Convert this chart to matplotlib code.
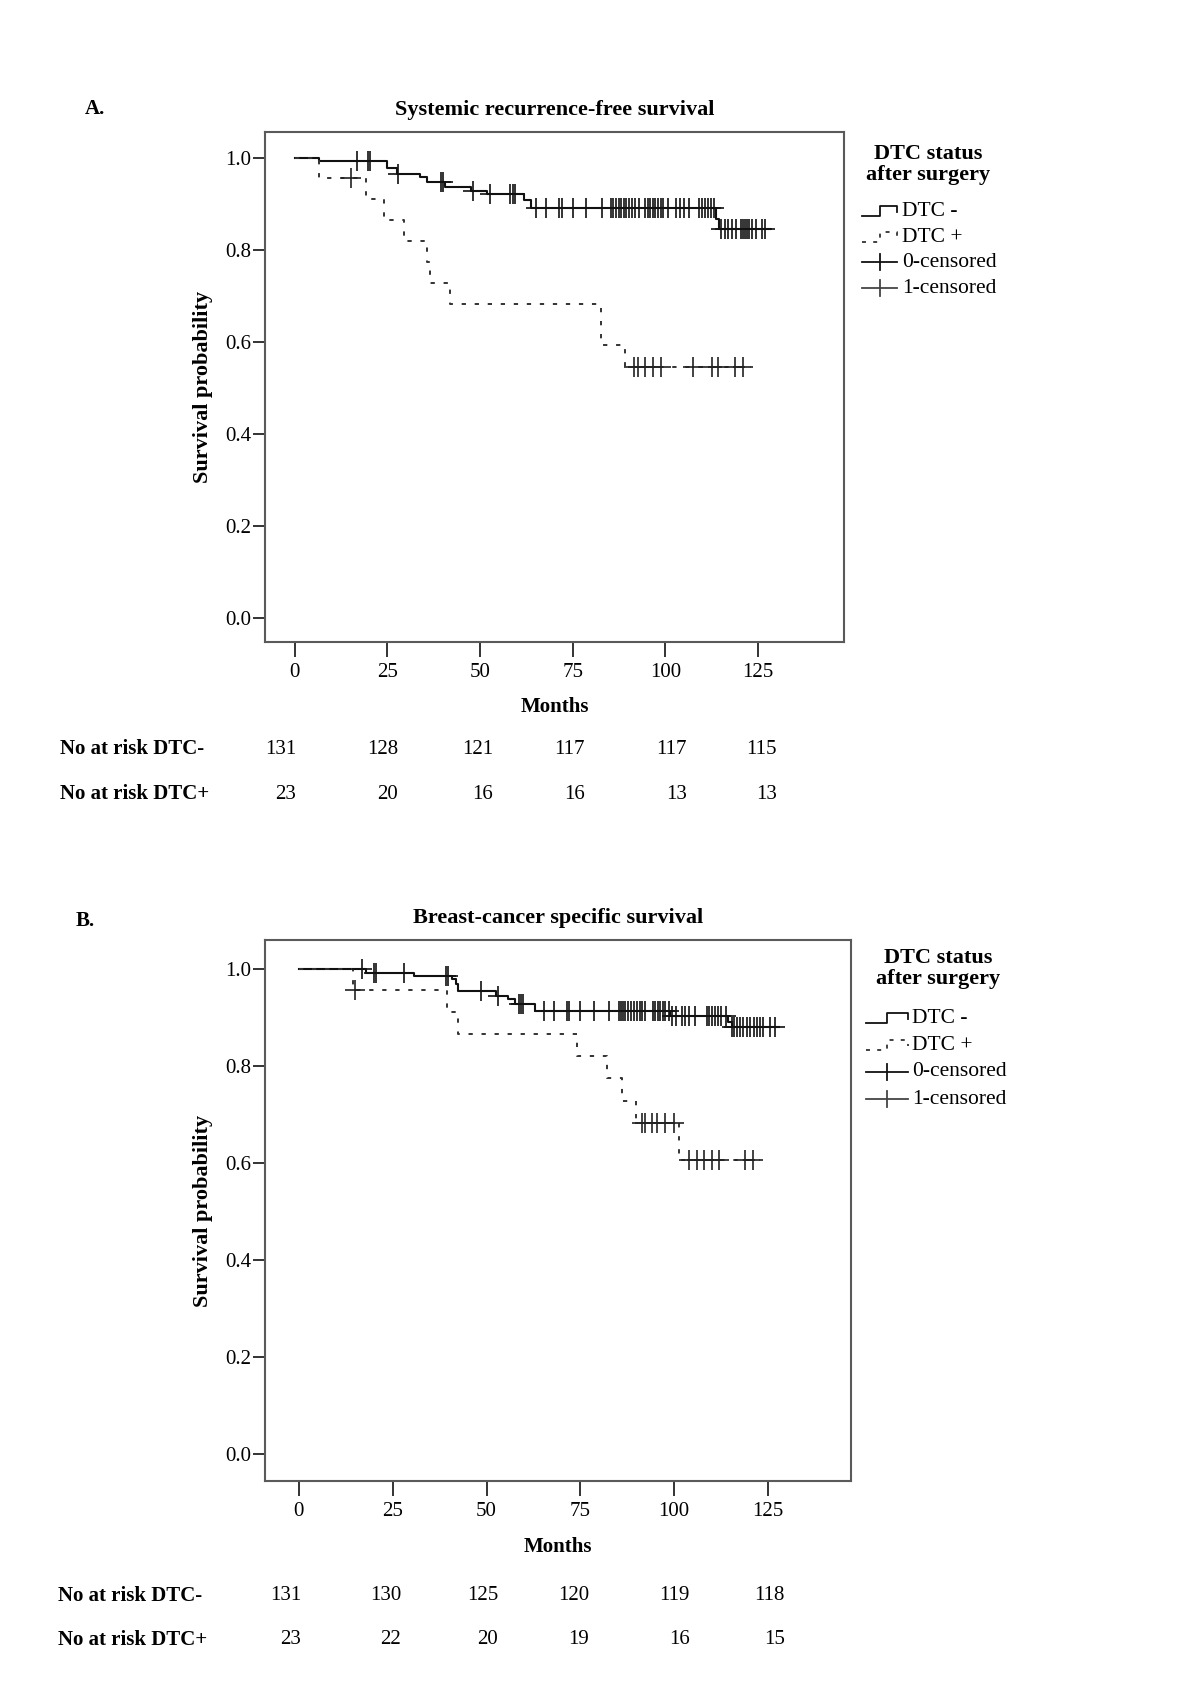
import numpy as np
import matplotlib
matplotlib.use("Agg")
import matplotlib.pyplot as plt

plt.rcParams['font.family'] = ['Liberation Serif', 'DejaVu Serif']

# ---------------- data ----------------
month_ticks = [0, 25, 50, 75, 100, 125]
surv_ticks = [0.0, 0.2, 0.4, 0.6, 0.8, 1.0]

# Panel A: systemic recurrence-free survival
a_neg_t = [0, 6.7, 25, 27.5, 33.7, 35.8, 40.5, 47.7, 52, 62, 63.7, 113.7, 114.5, 128.2]
a_neg_s = [1.0, 0.993, 0.978, 0.965, 0.958, 0.947, 0.937, 0.929, 0.921, 0.91, 0.892, 0.868, 0.845, 0.845]
a_neg_c = [16.7, 19.8, 20.4, 27.9, 39.4, 39.9, 48.2, 52.8, 58.0, 58.8, 59.5, 65.2, 67.8, 71.4,
           72.2, 75.0, 78.6, 82.8, 85.3, 86.0, 86.7, 87.4, 88.1, 88.8, 89.5, 90.2, 91.0, 91.8,
           93.0, 94.6, 95.3, 95.9, 96.6, 97.3, 98.0, 98.7, 99.3, 100.8, 102.9, 103.9, 105.0,
           106.5, 109.0, 109.8, 110.6, 111.5, 112.2, 113.2, 115.0, 116.0, 117.0, 118.0, 119.0,
           120.5, 121.0, 121.5, 122.0, 122.5, 123.5, 124.5, 126.0, 127.0]
a_pos_t = [0, 6.5, 19.3, 24.1, 29.4, 35.6, 36.6, 41.8, 82.6, 89.0, 123.0]
a_pos_s = [1.0, 0.957, 0.911, 0.866, 0.82, 0.775, 0.729, 0.683, 0.593, 0.546, 0.546]
a_pos_c = [15.2, 91.5, 92.5, 94.6, 96.7, 98.8, 107.5, 112.7, 114.2, 118.9, 120.9]
a_risk_neg = [131, 128, 121, 117, 117, 115]
a_risk_pos = [23, 20, 16, 16, 13, 13]

# Panel B: breast-cancer specific survival
b_neg_t = [0, 18.0, 30.6, 40.8, 41.8, 42.3, 52.5, 55.6, 57.7, 63.0, 99.0, 114.3, 115.3, 128.0]
b_neg_s = [1.0, 0.993, 0.986, 0.979, 0.97, 0.955, 0.945, 0.938, 0.928, 0.914, 0.903, 0.89, 0.88, 0.88]
b_neg_c = [16.8, 20.1, 20.6, 28.1, 39.3, 39.8, 48.5, 53.1, 58.7, 59.2, 59.7, 65.3, 67.9, 71.4,
           72.1, 75.0, 78.6, 82.7, 85.2, 85.8, 86.4, 87.0, 87.7, 88.4, 89.3, 90.1, 90.8, 91.5,
           92.3, 94.4, 95.0, 95.6, 96.2, 96.9, 97.6, 98.5, 99.5, 100.5, 102.0, 103.0, 104.0,
           105.6, 108.7, 109.4, 110.2, 110.9, 111.7, 112.5, 113.8, 115.3, 116.0, 116.8, 117.6,
           118.3, 119.3, 120.3, 121.4, 122.0, 122.8, 123.8, 125.5, 127.0]
b_pos_t = [0, 14.3, 39.5, 42.3, 74.2, 82.0, 86.0, 89.8, 101.3, 123.0]
b_pos_s = [1.0, 0.957, 0.911, 0.866, 0.82, 0.775, 0.729, 0.683, 0.607, 0.607]
b_pos_c = [15.0, 91.3, 92.3, 94.0, 95.5, 97.5, 100.0, 104.0, 106.0, 108.0, 110.0, 112.0, 118.9, 121.0]
b_risk_neg = [131, 130, 125, 120, 119, 118]
b_risk_pos = [23, 22, 20, 19, 16, 15]

# ---------------- figure ----------------
W, H = 1200, 1698
fig = plt.figure(figsize=(W / 100, H / 100), dpi=100)
fig.patch.set_facecolor('white')

SPINE = '#5a5a5a'
INK = '#111111'
FS = 15
FSB = 16


def rect(left, top, right, bottom):
    return [left / W, 1 - bottom / H, (right - left) / W, (bottom - top) / H]


def surv_at(times, surv, c):
    idx = np.searchsorted(np.asarray(times), np.asarray(c), side='right') - 1
    return np.asarray(surv)[idx]


def panel(r, xlim, ylim, title, nt, ns, nc, pt, ps, pc):
    ax = fig.add_axes(r)
    ax.step(nt, ns, where='post', color=INK, lw=1.5, zorder=3)
    ax.step(pt, ps, where='post', color='#333333', lw=1.4,
            linestyle=(0, (2.2, 4.5)), zorder=3)
    ax.plot(nc, surv_at(nt, ns, nc), linestyle='none', marker='+', ms=14,
            mew=1.2, color=INK, zorder=4)
    ax.plot(pc, surv_at(pt, ps, pc), linestyle='none', marker='+', ms=14,
            mew=1.2, color='#222222', zorder=4)
    ax.set_xlim(*xlim)
    ax.set_ylim(*ylim)
    ax.set_xticks(month_ticks)
    ax.set_yticks(surv_ticks)
    ax.set_yticklabels([f"{v:.1f}" for v in surv_ticks])
    for s in ax.spines.values():
        s.set_color(SPINE)
        s.set_linewidth(1.5)
    ax.tick_params(axis='x', direction='out', length=11, width=1.4, color='#333333',
                   pad=4, labelsize=FS)
    ax.tick_params(axis='y', direction='out', length=9, width=1.4, color='#333333',
                   pad=1, labelsize=FS)
    ax.set_title(title, fontsize=FSB, fontweight='bold', pad=12)
    ax.set_xlabel('Months', fontsize=FS, fontweight='bold', labelpad=11)
    ax.set_ylabel('Survival probability', fontsize=FSB, fontweight='bold', labelpad=9)
    return ax


axA = panel(rect(265.3, 132.1, 843.7, 642.2), (-7.9, 148.1), (-0.052, 1.0565),
            'Systemic recurrence-free survival',
            a_neg_t, a_neg_s, a_neg_c, a_pos_t, a_pos_s, a_pos_c)
axB = panel(rect(265.3, 940.0, 851.3, 1481.4), (-8.95, 147.2), (-0.056, 1.060),
            'Breast-cancer specific survival',
            b_neg_t, b_neg_s, b_neg_c, b_pos_t, b_pos_s, b_pos_c)

# overlay in pixel coordinates for annotation / legend / risk table
ov = fig.add_axes([0, 0, 1, 1])
ov.set_xlim(0, W)
ov.set_ylim(H, 0)
ov.axis('off')

ov.text(85, 109, 'A.', fontsize=FS, fontweight='bold', ha='left', va='center')
ov.text(76, 921, 'B.', fontsize=FS, fontweight='bold', ha='left', va='center')


def legend(cx, ty, gx0, gx1, tx, ys):
    ov.text(cx, ty, 'DTC status\nafter surgery', fontsize=FSB, fontweight='bold',
            ha='center', va='top', linespacing=1.05)
    gm = (gx0 + gx1) / 2
    y = ys[0]
    ov.plot([gx0, gm, gm, gx1, gx1], [y + 5, y + 5, y - 5, y - 5, y + 1],
            color=INK, lw=1.3)
    y = ys[1]
    ov.plot([gx0, gm, gm, gx1, gx1], [y + 5, y + 5, y - 5, y - 5, y + 1],
            color='#333333', lw=1.3, linestyle=(0, (2.2, 4.0)))
    for y, col in ((ys[2], INK), (ys[3], '#444444')):
        ov.plot([gx0, gx1], [y, y], color=col, lw=1.3)
        ov.plot([gm, gm], [y - 8, y + 8], color=col, lw=1.3)
    for y, lab in zip(ys, ['DTC -', 'DTC +', '0-censored', '1-censored']):
        ov.text(tx, y, lab, fontsize=FS + 0.5, ha='left', va='center')


legend(928, 144, 862, 897, 902, [211, 237, 262, 288])
legend(938, 948, 866, 908, 912, [1018, 1045, 1072, 1099])


def risk_table(lx, xs, y1, y2, neg, pos):
    ov.text(lx, y1, 'No at risk DTC-', fontsize=FS, fontweight='bold', ha='left', va='center')
    ov.text(lx, y2, 'No at risk DTC+', fontsize=FS, fontweight='bold', ha='left', va='center')
    for x, a, b in zip(xs, neg, pos):
        ov.text(x, y1, str(a), fontsize=FS, ha='right', va='center')
        ov.text(x, y2, str(b), fontsize=FS, ha='right', va='center')


risk_table(60, [296, 398, 493, 585, 687, 777], 749, 794, a_risk_neg, a_risk_pos)
risk_table(58, [301, 401, 498, 589, 690, 785], 1596, 1640, b_risk_neg, b_risk_pos)

fig.savefig('out.png', dpi=100, facecolor='white')
